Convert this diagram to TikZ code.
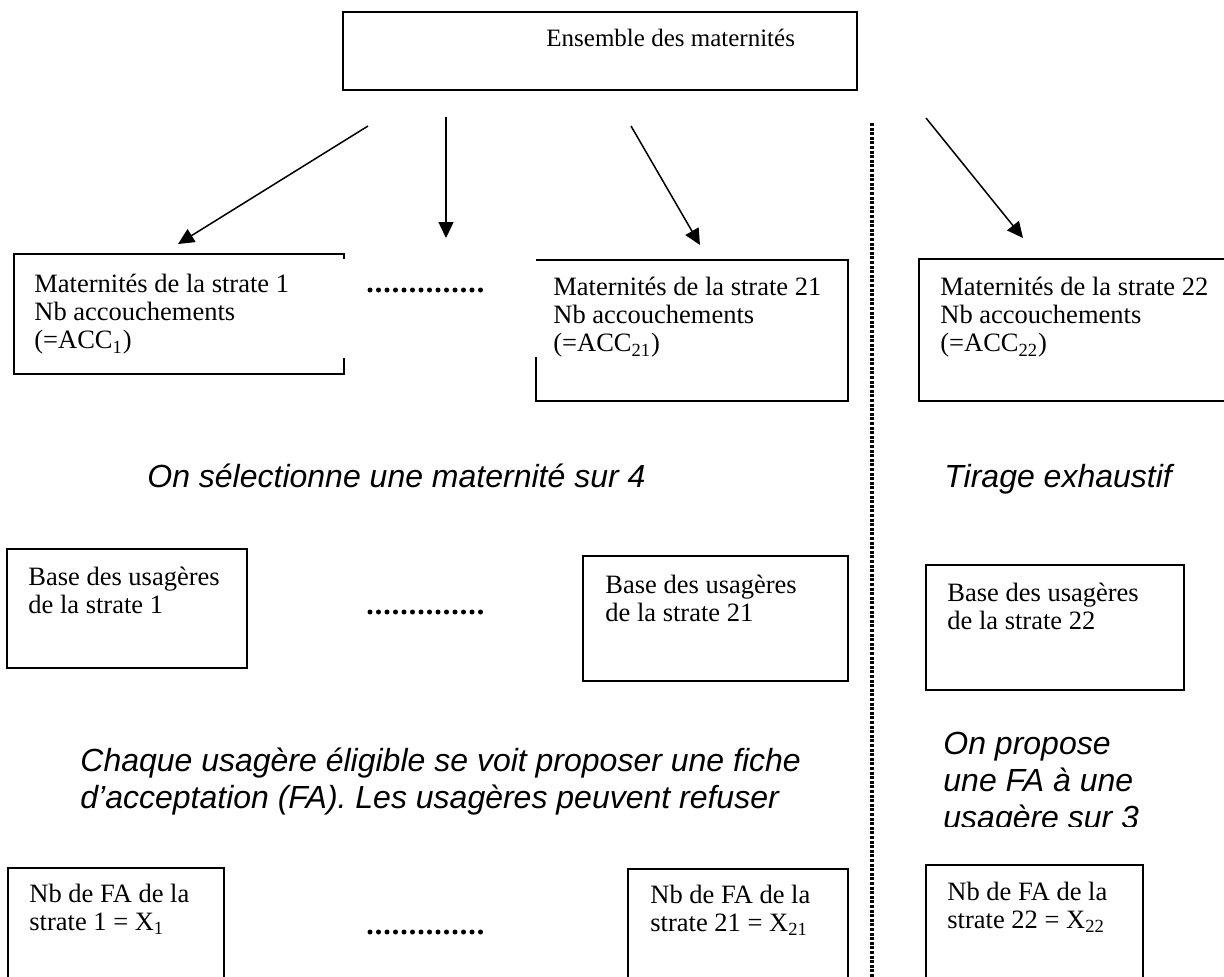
\documentclass[tikz,border=0pt]{standalone}
\usepackage{fontspec}
\setmainfont{Liberation Serif}
\newfontfamily\arialf{Liberation Sans}
\usetikzlibrary{arrows.meta}
\newcommand{\mlines}[1]{\begin{tabular}[t]{@{}l@{}}#1\end{tabular}}
\begin{document}
\begin{tikzpicture}[x=0.5pt,y=-0.5pt,
  box/.style={draw, line width=1pt, inner sep=0pt, outer sep=0pt, anchor=north west},
  ghost/.style={inner sep=0pt, outer sep=0pt, anchor=north west},
  txt/.style={inner sep=0pt, anchor=base west, font=\fontsize{13.25}{14.2}\selectfont},
  com/.style={inner sep=0pt, anchor=base west, font=\arialf\itshape\fontsize{16}{18.5}\selectfont},
  arr/.style={line width=0.75pt, -{Triangle[length=8pt,width=7.5pt]}},
  sep/.style={line width=2pt, dash pattern=on 1.45pt off 0.85pt},
  dotrow/.style={line width=2.5pt, line cap=round, dash pattern=on 0pt off 4.25pt},
  edge/.style={line width=1pt}]
\useasboundingbox (0,0) rectangle (1224,976);

% top box
\node[box, minimum width=257pt, minimum height=39pt] (top) at (343,12) {};
\node[txt, font=\fontsize{12.5}{14}\selectfont] (toptx) at (546,46) {Ensemble des maternités};

% first row
\node[ghost, minimum width=165pt, minimum height=60pt] (b1) at (14,254) {};
\draw[edge] (b1.north east) ++(0,5) -- (b1.north east) -- (b1.north west) -- (b1.south west) -- (b1.south east) -- ++(0,-16);
\node[txt] (b1tx) at (34,292) {\mlines{Maternités de la strate 1\\Nb accouchements\\(=ACC\textsubscript{1})}};

\node[ghost, minimum width=156pt, minimum height=70.5pt] (b21) at (536,260) {};
\draw[edge] (b21.south west) ++(0,-44) -- (b21.south west) -- (b21.south east) -- (b21.north east) -- (b21.north west);
\node[txt] (b21tx) at (553,295) {\mlines{Maternités de la strate 21\\Nb accouchements\\(=ACC\textsubscript{21})}};

\node[box, minimum width=156.5pt, minimum height=71pt] (b22) at (919,259) {};
\node[txt] (b22tx) at (940,295) {\mlines{Maternités de la strate 22\\Nb accouchements\\(=ACC\textsubscript{22})}};

% arrows
\coordinate (a1s) at (368,126); \coordinate (a1e) at (178,244);
\coordinate (a2s) at (446,117); \coordinate (a2e) at (446,238);
\coordinate (a3s) at (631,126); \coordinate (a3e) at (700,245);
\coordinate (a4s) at (926,118); \coordinate (a4e) at (1023,238);
\draw[arr] (a1s) -- (a1e);
\draw[arr] (a2s) -- (a2e);
\draw[arr] (a3s) -- (a3e);
\draw[arr] (a4s) -- (a4e);

% separator
\coordinate (s1) at (872,123); \coordinate (s2) at (872,990);
\draw[sep] (s1) -- (s2);

% dot rows
\coordinate (d1a) at (370,290); \coordinate (d1b) at (489,290);
\coordinate (d2a) at (370,612); \coordinate (d2b) at (489,612);
\coordinate (d3a) at (370,932); \coordinate (d3b) at (489,932);
\draw[dotrow] (d1a) -- (d1b);
\draw[dotrow] (d2a) -- (d2b);
\draw[dotrow] (d3a) -- (d3b);

% comments
\node[com] (c1) at (147,487) {On sélectionne une maternité sur 4};
\node[com] (c2) at (944,487) {Tirage exhaustif};

% second row
\node[box, minimum width=120pt, minimum height=59.5pt] (u1) at (7,549) {};
\node[txt] (u1tx) at (28,585) {\mlines{Base des usagères\\de la strate 1}};
\node[box, minimum width=132.5pt, minimum height=62.5pt] (u21) at (583,556) {};
\node[txt] (u21tx) at (605,593) {\mlines{Base des usagères\\de la strate 21}};
\node[box, minimum width=129pt, minimum height=62.5pt] (u22) at (926,565) {};
\node[txt] (u22tx) at (947,601) {\mlines{Base des usagères\\de la strate 22}};

\node[com] (c3) at (80,771) {\mlines{Chaque usagère éligible se voit proposer une fiche\\d’acceptation (FA). Les usagères peuvent refuser}};
\begin{scope}
  \clip (900,700) rectangle (1224,826);
  \node[com] (c4) at (943,754) {\mlines{On propose\\une FA à une\\usagère sur 3}};
\end{scope}

% third row
\node[box, minimum width=108pt, minimum height=65pt] (f1) at (8,868) {};
\node[txt] (f1tx) at (29,902) {\mlines{Nb de FA de la\\strate 1 = X\textsubscript{1}}};
\node[box, minimum width=110pt, minimum height=65pt] (f21) at (628,869) {};
\node[txt] (f21tx) at (650,903) {\mlines{Nb de FA de la\\strate 21 = X\textsubscript{21}}};
\node[box, minimum width=108.5pt, minimum height=65pt] (f22) at (926,865) {};
\node[txt] (f22tx) at (947,900) {\mlines{Nb de FA de la\\strate 22 = X\textsubscript{22}}};
\end{tikzpicture}
\end{document}
